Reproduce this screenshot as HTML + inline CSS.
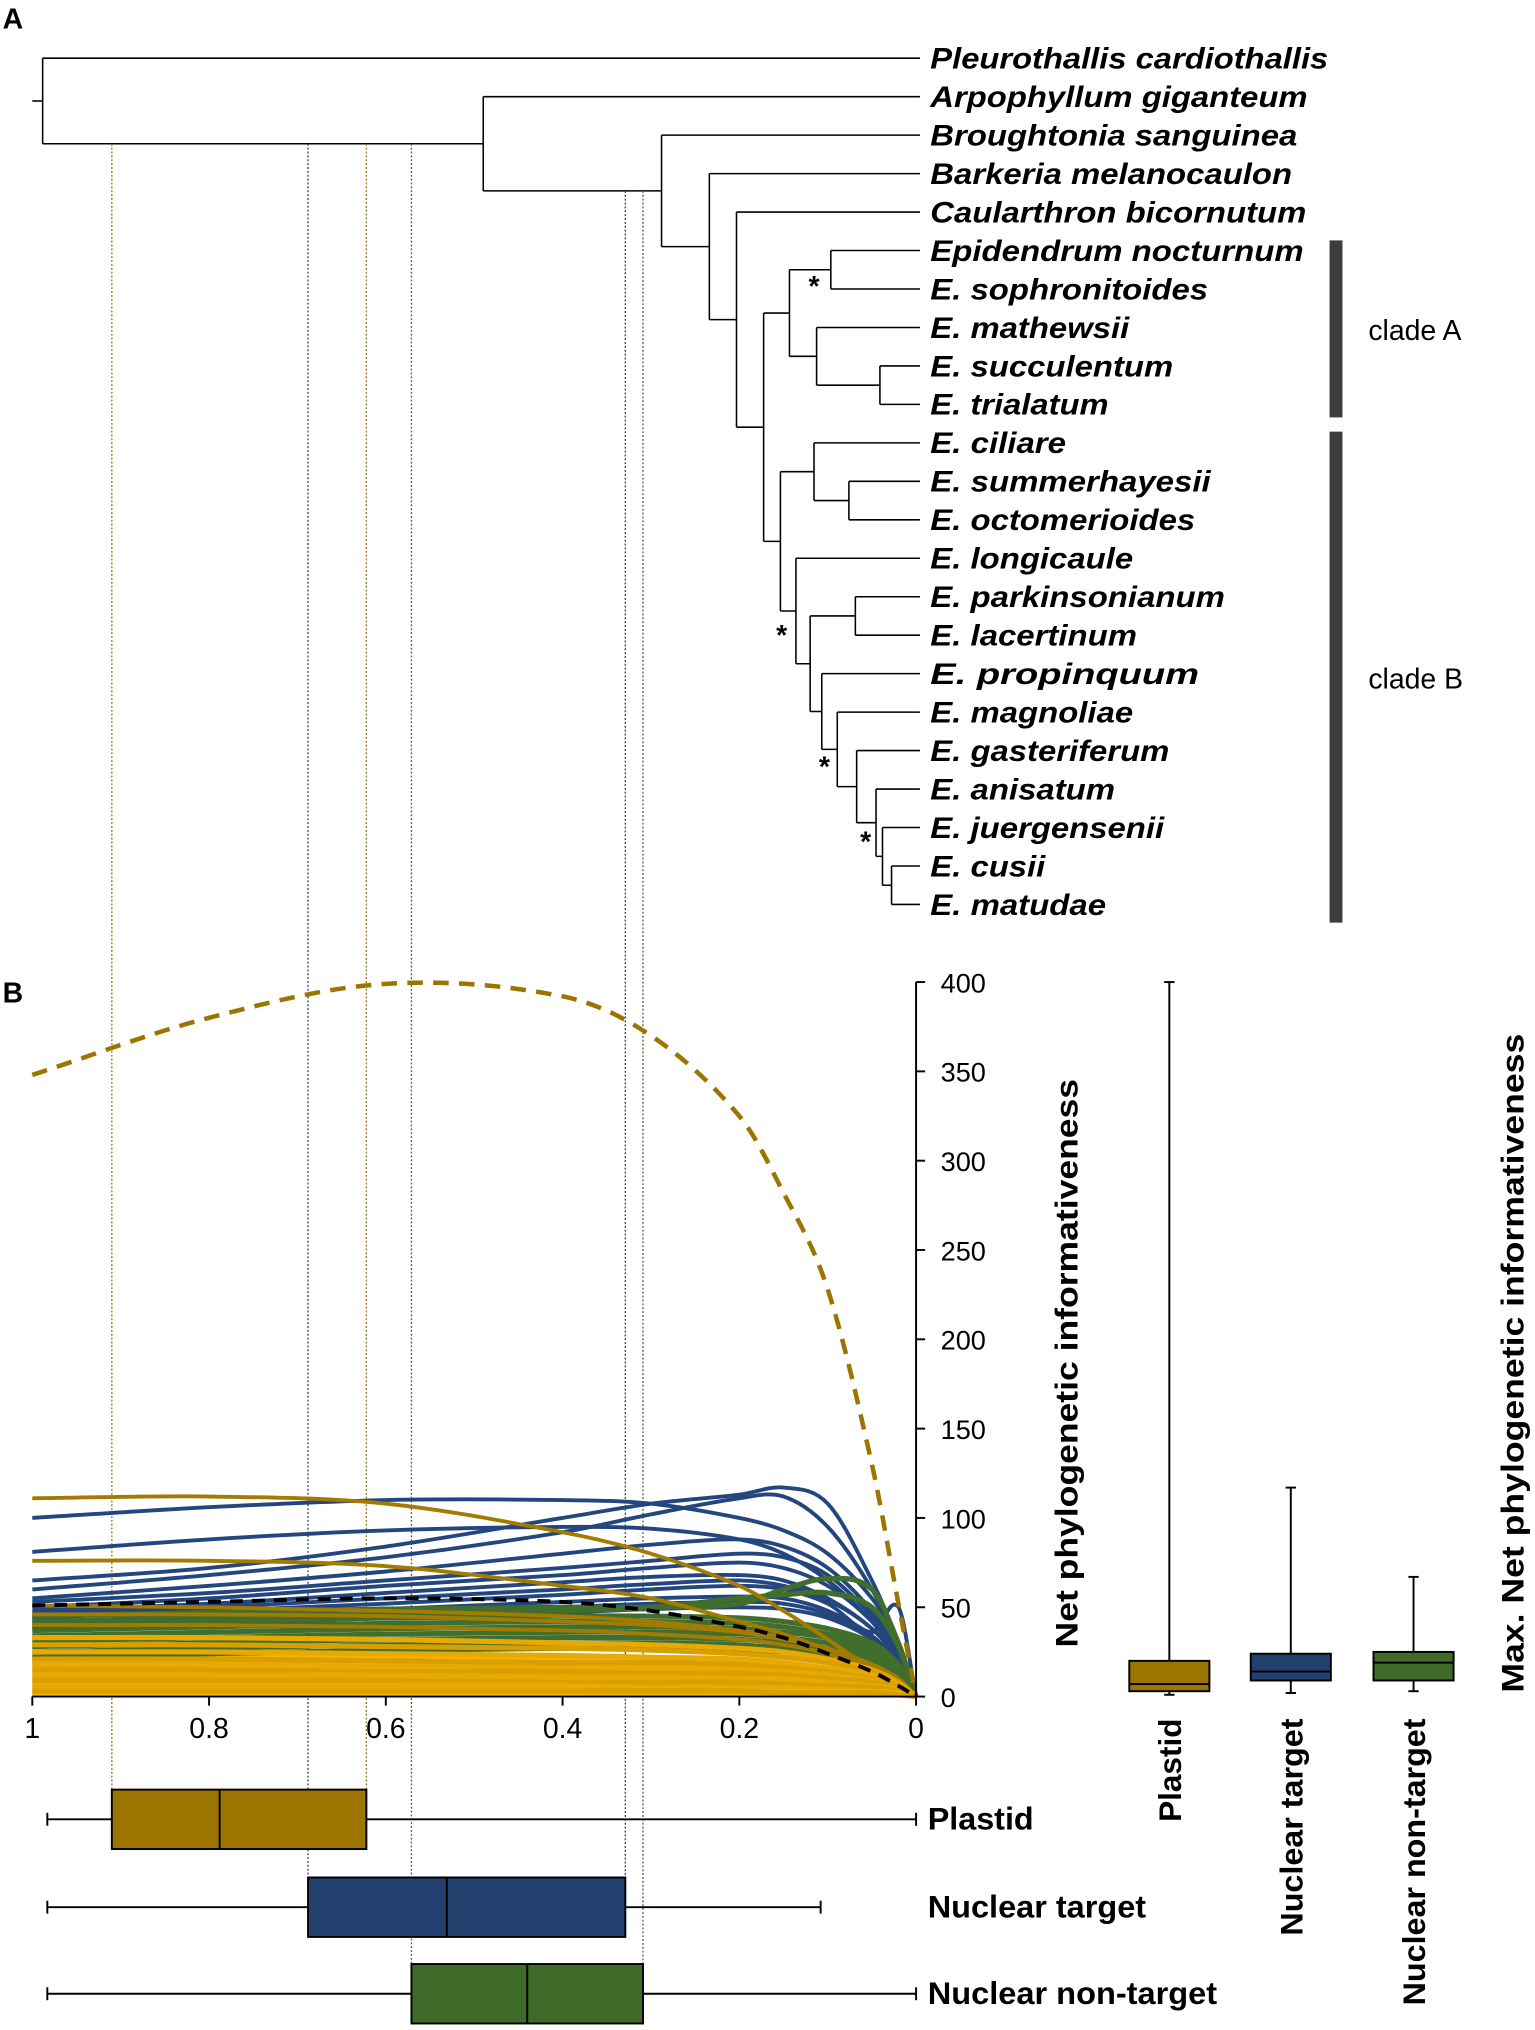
<!DOCTYPE html>
<html><head><meta charset="utf-8"><style>
html,body{margin:0;padding:0;background:#fff;}
svg{display:block;font-family:"Liberation Sans",sans-serif;}
</style></head><body>
<svg id="fig" width="1535" height="2030" viewBox="0 0 1188 1571" xmlns="http://www.w3.org/2000/svg">
<g id="tree"></g>
<g id="chartB"></g>
</svg>
<script>
// ---------- Data ----------
const species = ["Pleurothallis cardiothallis","Arpophyllum giganteum","Broughtonia sanguinea","Barkeria melanocaulon","Caularthron bicornutum","Epidendrum nocturnum","E. sophronitoides","E. mathewsii","E. succulentum","E. trialatum","E. ciliare","E. summerhayesii","E. octomerioides","E. longicaule","E. parkinsonianum","E. lacertinum","E. propinquum","E. magnoliae","E. gasteriferum","E. anisatum","E. juergensenii","E. cusii","E. matudae"];
const speciesWidths = [308,292,284,280,291,289,215,154,188,138,105,217,205,157,228,160,208,157,185,143,181,89,136];
const xGrid = [1,0.8,0.6,0.4,0.3,0.2,0.15,0.1,0.05,0.02,0];
const maxCurve = [348,380,399,392,370,325,282,228,130,52,0];
const meanCurve = [51,53,55,53,48,39,33,24,14,6,0];
const blueCurves = [
[100,106,110,110,108,100,93,80,55,30,0],
[81,88,93,95,94,88,80,65,42,22,0],
[65,72,84,100,108,113,117,108,65,30,0],
[60,68,78,92,102,111,112,95,60,28,0],
[55,62,70,80,85,88,84,72,48,25,0],
[53,58,65,72,76,80,78,68,45,24,0],
[50,55,62,68,72,75,72,62,42,22,0],
[48,52,58,64,67,68,65,55,38,20,0],
[46,50,55,60,63,65,62,54,38,20,0],
[44,48,52,57,60,62,60,52,36,50,0],
[42,45,49,53,55,56,55,48,34,18,0],
[40,43,46,50,52,53,52,46,33,18,0],
[38,40,44,47,49,50,49,44,32,17,0]];
const greenCurves = [
[45,47,49,50,50,52,60,66,60,30,0],
[42,44,46,48,50,55,57,58,50,28,0],
[40,42,44,45,45,44,42,38,30,18,0],
[37,39,41,42,42,41,39,35,28,16,0],
[34,36,38,39,39,38,36,33,26,15,0],
[31,33,35,36,36,35,33,30,24,14,0],
[28,30,32,33,33,32,30,27,22,13,0],
[25,27,29,30,30,29,27,25,20,12,0],
[22,24,26,27,27,26,25,22,18,11,0]];
const plastidCurves = [
[111,112,108,92,80,62,48,32,15,6,0],
[76,76,73,62,55,42,35,26,14,6,0],
[51,50,48,45,42,37,33,27,18,10,0],
[46,46,45,42,40,36,32,27,18,10,0],
[40,40,39,37,35,32,29,24,16,9,0],
[33,33,32,30,29,27,25,21,15,8,0],
[29,29,28,27,26,24,22,19,14,8,0],
[25,25,24,23,22,21,19,16,12,7,0],
[21,21,20,19,19,18,16,14,10,6,0],
[18,18,17,16,16,15,14,12,9,5,0],
[15,15,14,14,13,13,12,10,8,5,0],
[12,12,12,11,11,10,10,8,6,4,0],
[9,9,9,8,8,8,7,6,5,3,0],
[6,6,6,6,5,5,5,4,3,2,0],
[3,3,3,3,3,3,2,2,2,1,0]];
const xTicks = [1,0.8,0.6,0.4,0.2,0];
const xTickLabels = ["1","0.8","0.6","0.4","0.2","0"];
const yTicks = [0,50,100,150,200,250,300,350,400];
const groups = ["Plastid","Nuclear target","Nuclear non-target"];
const timeStats = [[0.983,0.91,0.788,0.622,0],[0.983,0.688,0.531,0.329,0.108],[0.983,0.571,0.44,0.309,0]];
const maxStats = [[1,3,7,20,400],[2,9,14,24,117],[3,9,19,25,67]];
const groupColors = ["#9c7400","#22416f","#3f6a2a"];

const NS="http://www.w3.org/2000/svg";
function mk(tag,attrs,parent){const e=document.createElementNS(NS,tag);for(const k in attrs)e.setAttribute(k,attrs[k]);parent.appendChild(e);return e;}
const svg=document.getElementById('fig');
const tree=document.getElementById('tree');
const chart=document.getElementById('chartB');

// ---------- Panel A: tree ----------
const tipY=i=>45+i*29.77;
const panelA=mk('text',{x:2,y:22,'font-size':22,'font-weight':'bold'},svg);panelA.textContent='A';


species.forEach((s,i)=>{
  const t=mk('text',{x:720,y:tipY(i)+8,'font-size':23,'font-weight':'bold','font-style':'italic',textLength:speciesWidths[i],lengthAdjust:'spacingAndGlyphs'},tree);
  t.textContent=s;
  
  
});
const nodes={};
function node(name,x,a,b){nodes[name]={x,a,b};}
node('es',643,5,6);node('st',681,8,9);node('ma',632,7,'st');node('A',611,'es','ma');
node('so',657,11,12);node('ci',630,10,'so');node('pl',662,14,15);node('cm',690,21,22);
node('ju',683,20,'cm');node('an',678,19,'ju');node('ga',663,18,'an');node('mg',648,17,'ga');
node('pr',636,16,'mg');node('p2',627,'pl','pr');node('lo',616,13,'p2');node('B',604,'ci','lo');
node('n5',591,'A','B');node('n4',570,4,'n5');node('n3',549,3,'n4');node('n2',512,2,'n3');node('n1',374,1,'n2');node('root',33,0,'n1');
function ny(c){return typeof c==='number'?tipY(c):nodeY(c);}
const cache={};
function nodeY(n){if(cache[n]!=null)return cache[n];const d=nodes[n];return cache[n]=(ny(d.a)+ny(d.b))/2;}
function cx(c){return typeof c==='number'?712:nodes[c].x;}
for(const n in nodes){
  const d=nodes[n];const ya=ny(d.a),yb=ny(d.b);
  const g=mk('path',{d:`M${d.x},${ya}V${yb}M${d.x},${ya}H${cx(d.a)}M${d.x},${yb}H${cx(d.b)}`,stroke:'#000','stroke-width':1.2,fill:'none'},tree);
  
  
}
const rt=mk('path',{d:`M25,${nodeY('root')}H33`,stroke:'#000','stroke-width':1.2},tree);


[[630,229],[605,499],[638,601],[670,659]].forEach(p=>{const t=mk('text',{x:p[0],y:p[1],'font-size':22,'font-weight':'bold','text-anchor':'middle'},tree);t.textContent='*';

});
[['A',186,323,263],['B',334,714,533]].forEach(c=>{
  const r=mk('rect',{x:1029,y:c[1],width:10,height:c[2]-c[1],fill:'#3d3d3d'},tree);
  
  
  const t=mk('text',{x:1059,y:c[3],'font-size':22},tree);t.textContent='clade '+c[0];
  
  
});

// ---------- Panel B ----------
const X0=25,X1=709,Y0=1313,Y400=760;
const xs=v=>X1-(X1-X0)*v;
const ys=v=>Y0-(Y0-Y400)*v/400;
const pb=mk('text',{x:2,y:776,'font-size':22,'font-weight':'bold'},svg);pb.textContent='B';



const guideTop=[nodeY('n1'),nodeY('n1'),nodeY('n1')];
const guideTop2=[nodeY('n1'),nodeY('n2'),nodeY('n2')];
const boxYc=[1408,1476,1543];
timeStats.forEach((s,i)=>{
  [[s[1],guideTop[i]],[s[3],guideTop2[i]]].forEach(p=>{
    const l=mk('line',{x1:xs(p[0]),x2:xs(p[0]),y1:p[1],y2:boxYc[i]-23,stroke:groupColors[i],'stroke-width':1,'stroke-dasharray':'1.5,1.5'},chart);
    
    
  });
});

function curvePath(vals){
  const pts=vals.map((v,i)=>[xs(xGrid[i]),ys(v)]);
  const n=pts.length;
  const m=pts.map((p,i)=>{
    const a=pts[Math.max(0,i-1)],b=pts[Math.min(n-1,i+1)];
    return (b[1]-a[1])/(b[0]-a[0]);
  });
  let d=`M${pts[0][0]},${pts[0][1]}`;
  for(let i=0;i<n-1;i++){
    const p1=pts[i],p2=pts[i+1],dx=(p2[0]-p1[0])/3;
    d+=`C${p1[0]+dx},${p1[1]+m[i]*dx} ${p2[0]-dx},${p2[1]-m[i+1]*dx} ${p2[0]},${p2[1]}`;
  }
  return d;
}
const fillPts=curvePath(plastidCurves[7])+`L${xs(0)},${Y0}L${xs(1)},${Y0}Z`;
const bf=mk('path',{d:fillPts,fill:'#f1b400'},chart);


blueCurves.forEach(v=>{const p=mk('path',{d:curvePath(v),stroke:'#24467f','stroke-width':3,fill:'none'},chart);

});
greenCurves.forEach(v=>{const p=mk('path',{d:curvePath(v),stroke:'#416e2c','stroke-width':4,fill:'none'},chart);

});
plastidCurves.forEach((v,i)=>{const p=mk('path',{d:curvePath(v),stroke:i<5?'#a37b00':(i%2?'#e8a900':'#d99e00'),'stroke-width':i<5?3:4,fill:'none'},chart);

});
const mc=mk('path',{d:curvePath(meanCurve),stroke:'#000','stroke-width':3,'stroke-dasharray':'10,7',fill:'none'},chart);


const mx=mk('path',{d:curvePath(maxCurve),stroke:'#9c7400','stroke-width':3.5,'stroke-dasharray':'12,8',fill:'none'},chart);



const xa=mk('line',{x1:X0,x2:X1,y1:Y0,y2:Y0,stroke:'#000','stroke-width':1.5},chart);


xTicks.forEach((v,i)=>{
  mk('line',{x1:xs(v),x2:xs(v),y1:Y0,y2:Y0+7,stroke:'#000','stroke-width':1.5},chart);
  const t=mk('text',{x:xs(v),y:Y0+32,'font-size':22,'text-anchor':'middle'},chart);t.textContent=xTickLabels[i];
  
  
});
const ya=mk('line',{x1:X1,x2:X1,y1:Y0,y2:Y400,stroke:'#000','stroke-width':1.5},chart);


yTicks.forEach(v=>{
  mk('line',{x1:X1,x2:X1+7,y1:ys(v),y2:ys(v),stroke:'#000','stroke-width':1.5},chart);
  const t=mk('text',{x:728,y:ys(v)+8,'font-size':21},chart);t.textContent=String(v);
  
  
});
const yt=mk('text',{x:0,y:0,'font-size':24,'font-weight':'bold','text-anchor':'middle',transform:'translate(834,1055) rotate(-90)',textLength:440,lengthAdjust:'spacingAndGlyphs'},chart);
yt.textContent='Net phylogenetic informativeness';


const yt2=mk('text',{x:0,y:0,'font-size':24,'font-weight':'bold','text-anchor':'middle',transform:'translate(1179,1055) rotate(-90)',textLength:510,lengthAdjust:'spacingAndGlyphs'},chart);
yt2.textContent='Max. Net phylogenetic informativeness';



const lblW=[82,169,224];
timeStats.forEach((s,i)=>{
  const yc=boxYc[i],h=23;
  const g=mk('g',{},chart);
  
  
  mk('line',{x1:xs(s[0]),x2:xs(s[4]),y1:yc,y2:yc,stroke:'#000','stroke-width':1.5},g);
  mk('line',{x1:xs(s[0]),x2:xs(s[0]),y1:yc-5,y2:yc+5,stroke:'#000','stroke-width':1.5},g);
  mk('line',{x1:xs(s[4]),x2:xs(s[4]),y1:yc-5,y2:yc+5,stroke:'#000','stroke-width':1.5},g);
  mk('rect',{x:xs(s[1]),y:yc-h,width:xs(s[3])-xs(s[1]),height:2*h,fill:groupColors[i],stroke:'#000','stroke-width':1.5},g);
  mk('line',{x1:xs(s[2]),x2:xs(s[2]),y1:yc-h,y2:yc+h,stroke:'#000','stroke-width':1.5},g);
  const t=mk('text',{x:718,y:yc+8,'font-size':24,'font-weight':'bold',textLength:lblW[i],lengthAdjust:'spacingAndGlyphs'},chart);t.textContent=groups[i];
  
  
});

const bx=[905,999,1094];
const rotW=[80,168,222];
maxStats.forEach((s,i)=>{
  const c=bx[i],w=31;
  const g=mk('g',{},chart);
  
  
  mk('line',{x1:c,x2:c,y1:ys(s[0]),y2:ys(s[4]),stroke:'#000','stroke-width':1.5},g);
  mk('line',{x1:c-4,x2:c+4,y1:ys(s[4]),y2:ys(s[4]),stroke:'#000','stroke-width':1.5},g);
  mk('line',{x1:c-4,x2:c+4,y1:ys(s[0]),y2:ys(s[0]),stroke:'#000','stroke-width':1.5},g);
  mk('rect',{x:c-w,y:ys(s[3]),width:2*w,height:ys(s[1])-ys(s[3]),fill:groupColors[i],stroke:'#000','stroke-width':1.5},g);
  mk('line',{x1:c-w,x2:c+w,y1:ys(s[2]),y2:ys(s[2]),stroke:'#000','stroke-width':1.5},g);
  const t=mk('text',{x:0,y:0,'font-size':24,'font-weight':'bold','text-anchor':'end',transform:`translate(${c+9},1330) rotate(-90)`,textLength:rotW[i],lengthAdjust:'spacingAndGlyphs'},chart);
  t.textContent=groups[i];
  
  
});
</script>
</body></html>
